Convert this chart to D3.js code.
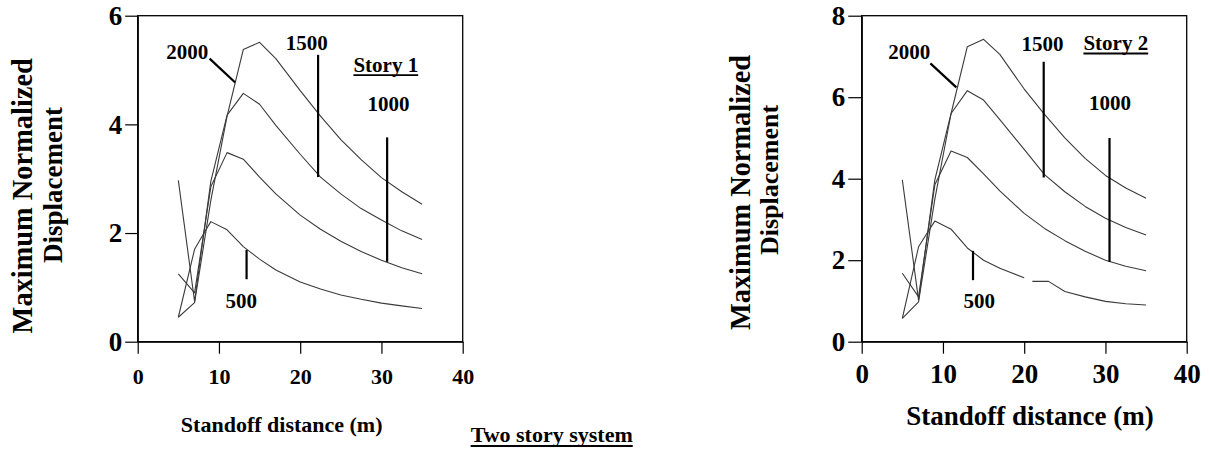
<!DOCTYPE html>
<html>
<head>
<meta charset="utf-8">
<script src="https://cdn.jsdelivr.net/npm/d3@7"></script>
<style>
  html, body { margin: 0; padding: 0; background: #fff; }
  svg { display: block; }
  text { font-family: "Liberation Serif", "Times New Roman", serif; font-weight: bold; fill: #000; }
</style>
</head>
<body>
<svg id="chart" width="1209" height="457"></svg>
<script>
// Standoff distance (m) for each charge curve, and the maximum normalized displacement.
// Story 1
const s1Dist500  = [5, 7, 8, 9, 11, 13, 15, 17, 20, 22.5, 25, 27.5, 30, 32.5, 35];
const s1Disp500  = [0.45, 1.70, 1.96, 2.21, 2.06, 1.75, 1.52, 1.32, 1.10, 0.97, 0.86, 0.78, 0.71, 0.66, 0.61];
const s1Dist     = [5, 7, 9, 11, 13, 15, 17, 20, 22.5, 25, 27.5, 30, 32.5, 35];
const s1Disp1000 = [1.25, 0.90, 2.85, 3.48, 3.36, 3.03, 2.72, 2.33, 2.07, 1.85, 1.66, 1.50, 1.36, 1.25];
const s1Disp1500 = [2.97, 0.74, 2.95, 4.17, 4.57, 4.37, 3.98, 3.45, 3.03, 2.72, 2.45, 2.24, 2.04, 1.88];
const s1Disp2000 = [0.45, 0.72, 2.60, 4.15, 5.38, 5.51, 5.21, 4.62, 4.15, 3.72, 3.35, 3.02, 2.76, 2.53];

// Story 2 (the 500 curve has a break between 20 m and 21 m)
const s2Dist500  = [5, 7, 8, 9, 11, 13, 15, 17, 20, 20.5, 21, 23, 25, 27.5, 30, 32.5, 35];
const s2Disp500  = [0.57, 2.33, 2.65, 2.96, 2.76, 2.30, 2.00, 1.80, 1.57, null, 1.48, 1.48, 1.23, 1.10, 0.99, 0.93, 0.90];
const s2Dist     = [5, 7, 9, 11, 13, 15, 17, 20, 22.5, 25, 27.5, 30, 32.5, 35];
const s2Disp1000 = [1.68, 1.10, 3.85, 4.68, 4.52, 4.12, 3.70, 3.15, 2.78, 2.48, 2.22, 2.00, 1.85, 1.74];
const s2Disp1500 = [3.97, 1.02, 3.97, 5.60, 6.16, 5.93, 5.45, 4.72, 4.10, 3.68, 3.32, 3.03, 2.80, 2.62];
const s2Disp2000 = [0.57, 0.98, 3.50, 5.60, 7.24, 7.42, 7.05, 6.20, 5.58, 5.00, 4.50, 4.08, 3.77, 3.52];

const xTicks = [0, 10, 20, 30, 40];
const s1YTicks = [0, 2, 4, 6];
const s2YTicks = [0, 2, 4, 6, 8];
const chargeLabels = ["500", "1000", "1500", "2000"];

const svg = d3.select("#chart");
const FONT = '"Liberation Serif", "Times New Roman", serif';

function zip(xs, ys) { return xs.map((x, i) => [x, ys[i]]); }

function drawPanel(p) {
  const x = d3.scaleLinear().domain([0, 40]).range([p.left, p.left + 325]);
  const y = d3.scaleLinear().domain([0, p.yMax]).range([341.7, 15.7]);
  const g = svg.append("g");

  // frame
  g.append("rect")
    .attr("x", x(0)).attr("y", y(p.yMax))
    .attr("width", x(40) - x(0)).attr("height", y(0) - y(p.yMax))
    .attr("fill", "none").attr("stroke", "#000").attr("stroke-width", 1.3);

  // axes
  const ya = g.append("g").attr("transform", `translate(${x(0)},0)`)
    .call(d3.axisLeft(y).tickValues(p.yTicks).tickFormat(d3.format("d"))
      .tickSize(p.yTickSize).tickSizeOuter(0).tickPadding(3));
  ya.selectAll("text").style("font-family", FONT).style("font-weight", "bold")
    .style("font-size", p.yTickFont + "px");
  const xa = g.append("g").attr("transform", `translate(0,${y(0)})`)
    .call(d3.axisBottom(x).tickValues(xTicks).tickFormat(d3.format("d"))
      .tickSize(12).tickSizeOuter(0));
  xa.selectAll("text").attr("dy", 0).attr("y", p.xTickBase)
    .style("font-family", FONT).style("font-weight", "bold")
    .style("font-size", p.xTickFont + "px");
  [ya, xa].forEach(a => {
    a.select(".domain").attr("stroke-width", 1.3);
    a.selectAll(".tick line").attr("stroke-width", 1.2);
  });

  // curves
  const line = d3.line().defined(d => d[1] != null).x(d => x(d[0])).y(d => y(d[1]));
  g.append("g").selectAll("path").data(p.series).join("path")
    .attr("d", d => line(d))
    .attr("fill", "none").attr("stroke", "#3a3a3a").attr("stroke-width", 1.1)
    .attr("stroke-linejoin", "round");

  // leader lines for curve labels
  g.append("g").selectAll("line").data(p.leaders).join("line")
    .attr("x1", d => x(d[0])).attr("y1", d => y(d[1]))
    .attr("x2", d => x(d[2])).attr("y2", d => y(d[3]))
    .attr("stroke", "#000").attr("stroke-width", 2.2);

  // curve labels
  g.append("g").selectAll("text").data(p.labels).join("text")
    .attr("x", d => d.x).attr("y", d => d.y)
    .attr("text-anchor", "middle").style("font-size", "21px")
    .text(d => d.t);

  // panel title, underlined
  const st = g.append("text").attr("x", p.story.x).attr("y", p.story.y)
    .attr("text-anchor", "middle").style("font-size", "21px").text(p.story.t);
  const w = st.node().getComputedTextLength();
  g.append("line").attr("x1", p.story.x - w / 2).attr("x2", p.story.x + w / 2)
    .attr("y1", p.story.y + 3.5).attr("y2", p.story.y + 3.5)
    .attr("stroke", "#000").attr("stroke-width", 1.8);

  // axis titles
  g.append("text").attr("x", p.xTitle.x).attr("y", p.xTitle.y)
    .attr("text-anchor", "middle").style("font-size", p.xTitle.size + "px")
    .text("Standoff distance (m)");
  p.yTitle.forEach(t => {
    g.append("text").attr("transform", `translate(${t.x},${t.y}) rotate(-90)`)
      .attr("text-anchor", "middle").style("font-size", t.size + "px").text(t.t);
  });
}

drawPanel({
  left: 137.7, yMax: 6, yTicks: s1YTicks, yTickSize: 12.5, yTickFont: 27,
  xTickFont: 22, xTickBase: 42.3,
  series: [zip(s1Dist500, s1Disp500), zip(s1Dist, s1Disp1000), zip(s1Dist, s1Disp1500), zip(s1Dist, s1Disp2000)],
  leaders: [[8.85, 5.21, 12.0, 4.77], [22.2, 5.28, 22.2, 3.03], [30.7, 3.76, 30.7, 1.47], [13.4, 1.69, 13.4, 1.15]],
  labels: [{t: chargeLabels[3], x: 187.2, y: 59.3}, {t: chargeLabels[2], x: 306.7, y: 50},
           {t: chargeLabels[1], x: 388.5, y: 110.7}, {t: chargeLabels[0], x: 241.2, y: 308.3}],
  story: {t: "Story 1", x: 385.8, y: 71.7},
  xTitle: {x: 281.7, y: 431.7, size: 22},
  yTitle: [{t: "Maximum Normalized", x: 31.7, y: 195.8, size: 28.4},
           {t: "Displacement", x: 61.7, y: 185, size: 27}]
});

drawPanel({
  left: 861.7, yMax: 8, yTicks: s2YTicks, yTickSize: 13.5, yTickFont: 27,
  xTickFont: 27, xTickBase: 41.6,
  series: [zip(s2Dist500, s2Disp500), zip(s2Dist, s2Disp1000), zip(s2Dist, s2Disp1500), zip(s2Dist, s2Disp2000)],
  leaders: [[8.45, 6.83, 11.65, 6.24], [22.4, 6.87, 22.4, 4.03], [30.5, 5.0, 30.5, 1.96], [13.7, 2.23, 13.7, 1.51]],
  labels: [{t: chargeLabels[3], x: 909.2, y: 59.3}, {t: chargeLabels[2], x: 1042.5, y: 51},
           {t: chargeLabels[1], x: 1110, y: 110}, {t: chargeLabels[0], x: 979.2, y: 308.3}],
  story: {t: "Story 2", x: 1115.8, y: 50},
  xTitle: {x: 1030, y: 425, size: 27},
  yTitle: [{t: "Maximum Normalized", x: 750, y: 192.5, size: 28.4},
           {t: "Displacement", x: 778.3, y: 180, size: 26}]
});

// figure caption
const cap = svg.append("text").attr("x", 551.7).attr("y", 441.7)
  .attr("text-anchor", "middle").style("font-size", "22px").text("Two story system");
const cw = cap.node().getComputedTextLength();
svg.append("line").attr("x1", 551.7 - cw / 2).attr("x2", 551.7 + cw / 2)
  .attr("y1", 446).attr("y2", 446).attr("stroke", "#000").attr("stroke-width", 1.8);
</script>
</body>
</html>
